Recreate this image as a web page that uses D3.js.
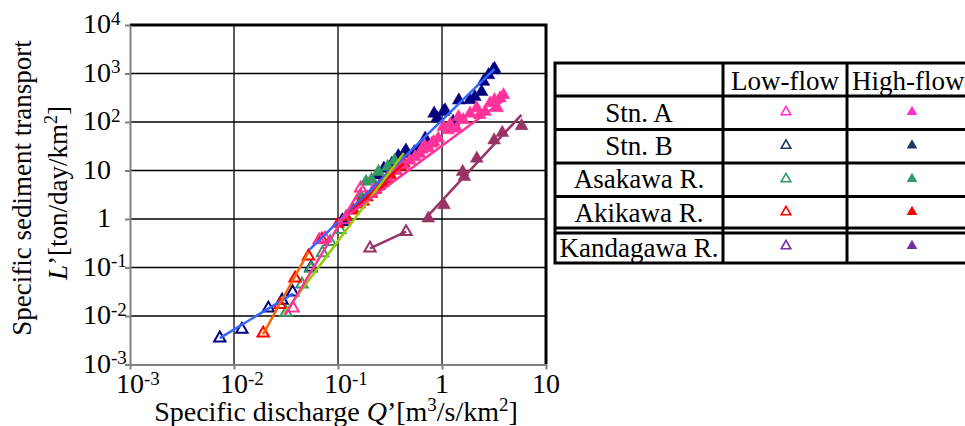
<!DOCTYPE html>
<html>
<head>
<meta charset="utf-8">
<script src="https://cdn.jsdelivr.net/npm/d3@7"></script>
<style>
  body { margin: 0; background: white; }
  text { font-family: "Liberation Serif", "Times New Roman", serif; fill: black; }
</style>
</head>
<body>
<div id="canvas"></div>
<script>
"use strict"

/* data: [Q', L'] pairs */
let stnBLow = [[0.0073, 0.0035], [0.0119, 0.0053], [0.0214, 0.0144], [0.029, 0.021], [0.0366, 0.031], [0.055, 0.10], [0.11, 0.88]];
let stnBHigh = [[0.11, 0.95], [0.24, 8], [0.276, 11], [0.33, 14], [0.38, 20], [0.43, 22], [0.45, 26], [0.54, 24], [0.61, 29], [0.69, 46],
  [0.84, 150], [0.9, 120], [1.03, 163], [1.07, 175], [1.28, 102], [1.45, 280], [1.86, 284], [2.07, 330], [2.4, 420], [2.5, 680], [2.8, 930], [3.1, 1180], [3.2, 1250]];
let stnALow = [[0.037, 0.0145], [0.066, 0.37], [0.075, 0.4], [0.116, 0.95], [0.165, 4.3]];
let stnAHigh = [[0.22, 4], [0.3, 7], [0.36, 10], [0.42, 13], [0.49, 16], [0.55, 19], [0.61, 22], [0.64, 27], [0.68, 33], [0.74, 29],
  [0.8, 36], [0.83, 39], [0.92, 46], [1.03, 80], [1.15, 68], [1.2, 90], [1.38, 74], [1.44, 127], [1.6, 110], [1.86, 150],
  [2.16, 195], [2.3, 140], [2.6, 163], [2.9, 245], [3.2, 284], [3.4, 195], [3.6, 310], [3.9, 360]];
let asaLow = [[0.0317, 0.0118], [0.045, 0.045], [0.055, 0.095], [0.071, 0.2], [0.084, 0.34], [0.104, 0.6]];
let asaHigh = [[0.12, 1.1], [0.14, 1.6], [0.165, 3], [0.186, 5.9], [0.21, 6.5], [0.245, 9.4], [0.3, 12], [0.35, 16]];
let akiLow = [[0.0191, 0.0044], [0.0277, 0.017], [0.0387, 0.06], [0.052, 0.17], [0.07, 0.38]];
let akiHigh = [[0.1, 0.8], [0.12, 1.1], [0.14, 1.5], [0.16, 2], [0.175, 2.3], [0.19, 2.8], [0.21, 3.3], [0.23, 4], [0.25, 4.8],
  [0.27, 5.5], [0.29, 6.5], [0.32, 8], [0.36, 10], [0.4, 12], [0.43, 14]];
let kanLow = [[0.203, 0.249], [0.451, 0.547]];
let kanHigh = [[0.738, 1.03], [1.045, 1.94], [1.58, 9.4], [1.64, 7.4], [2.16, 17.7], [3.17, 42], [3.8, 60], [5.83, 83]];

/* fitted lines, end points */
let stnBLowFit = [[0.0073, 0.0035], [0.037, 0.029]];
let stnBHighFit = [[0.053, 0.23], [3.2, 1250]];
let stnALowFit = [[0.031, 0.0105], [0.17, 4.6]];
let stnAHighFit = [[0.1, 0.85], [4.0, 290]];
let asaFit = [[0.03, 0.011], [0.43, 23]];
let akiLowFit = [[0.019, 0.0042], [0.052, 0.21]];
let akiHighFit = [[0.1, 0.8], [0.43, 14]];
let kanLowFit = [[0.203, 0.249], [0.451, 0.547]];
let kanHighFit = [[0.72, 1.12], [5.8, 140]];

/* ticks */
let xTicks = [1e-3, 1e-2, 1e-1, 1, 10];
let xTickBase = ["10", "10", "10", "1", "10"];
let xTickSup = ["-3", "-2", "-1", "", ""];
let yTicks = [1e-3, 1e-2, 1e-1, 1, 10, 1e2, 1e3, 1e4];
let yTickBase = ["10", "10", "10", "1", "10", "10", "10", "10"];
let yTickSup = ["-3", "-2", "-1", "", "", "2", "3", "4"];

/* legend table */
let rowLabels = ["Stn. A", "Stn. B", "Asakawa R.", "Akikawa R.", "Kandagawa R."];
let legendColors = ["#ff33cc", "#1f3864", "#339966", "#ff0000", "#7030a0"];

let drawing = d3.select("#canvas")
  .append("svg")
  .attr("width", 965)
  .attr("height", 426);

let x = d3.scaleLog().domain([1e-3, 10]).range([130, 546]);
let y = d3.scaleLog().domain([1e-3, 1e4]).range([364.5, 25]);

/* grid */
drawing.append("g").selectAll("line").data(xTicks.slice(1, -1)).join("line")
  .attr("x1", d => x(d)).attr("x2", d => x(d))
  .attr("y1", y(1e4)).attr("y2", y(1e-3))
  .attr("stroke", "#333").attr("stroke-width", 1.6);
drawing.append("g").selectAll("line").data(yTicks.slice(1, -1)).join("line")
  .attr("x1", x(1e-3)).attr("x2", x(10))
  .attr("y1", d => y(d)).attr("y2", d => y(d))
  .attr("stroke", "black").attr("stroke-width", 1.6);

/* top and right frame */
drawing.append("polyline")
  .attr("points", [[x(1e-3), y(1e4)], [x(10), y(1e4)], [x(10), y(1e-3)]].join(" "))
  .attr("fill", "none").attr("stroke", "black").attr("stroke-width", 3);

/* axes */
let xAxis = drawing.append("g")
  .attr("transform", `translate(0,${y(1e-3)})`)
  .call(d3.axisBottom(x).tickValues(xTicks).tickFormat("").tickSize(5).tickSizeOuter(0));
let yAxis = drawing.append("g")
  .attr("transform", `translate(${x(1e-3)},0)`)
  .call(d3.axisLeft(y).tickValues(yTicks).tickFormat("").tickSize(5).tickSizeOuter(0));
drawing.selectAll(".domain, .tick line").attr("stroke", "#808080").attr("stroke-width", 2);

/* x tick labels: base centred on the tick, exponent hangs to the right */
xTicks.forEach((t, i) => {
  let base = drawing.append("text")
    .attr("x", x(t)).attr("y", 393)
    .attr("text-anchor", "middle")
    .attr("font-size", 28)
    .text(xTickBase[i]);
  let w = base.node().getComputedTextLength();
  if (xTickSup[i]) {
    drawing.append("text")
      .attr("x", x(t) + w / 2).attr("y", 385)
      .attr("font-size", 19)
      .text(xTickSup[i]);
  }
});

/* y tick labels */
yTicks.forEach((t, i) => {
  drawing.append("text")
    .attr("x", 111).attr("y", y(t) + 8)
    .attr("text-anchor", "end")
    .attr("font-size", 28)
    .text(yTickBase[i]);
  if (yTickSup[i]) {
    drawing.append("text")
      .attr("x", 111).attr("y", y(t) - 0.5)
      .attr("font-size", 19)
      .text(yTickSup[i]);
  }
});

/* axis titles */
let xTitle = drawing.append("text")
  .attr("x", 336).attr("y", 421)
  .attr("text-anchor", "middle")
  .attr("font-size", 28);
xTitle.append("tspan").text("Specific discharge ");
xTitle.append("tspan").attr("font-style", "italic").text("Q");
xTitle.append("tspan").text("’[m");
xTitle.append("tspan").attr("font-size", 19).attr("dy", -10).text("3");
xTitle.append("tspan").attr("dy", 10).text("/s/km");
xTitle.append("tspan").attr("font-size", 19).attr("dy", -10).text("2");
xTitle.append("tspan").attr("dy", 10).text("]");

let yTitle1 = drawing.append("text")
  .attr("transform", "translate(31,188) rotate(-90)")
  .attr("text-anchor", "middle")
  .attr("font-size", 27)
  .text("Specific sediment transport");
let yTitle2 = drawing.append("text")
  .attr("transform", "translate(67,193) rotate(-90)")
  .attr("text-anchor", "middle")
  .attr("font-size", 27);
yTitle2.append("tspan").attr("font-style", "italic").text("L");
yTitle2.append("tspan").text("’[ton/day/km");
yTitle2.append("tspan").attr("font-size", 18).attr("dy", -10).text("2");
yTitle2.append("tspan").attr("dy", 10).text("]");

/* markers */
let series = [
  { pts: stnBLow, color: "#000080", filled: false },
  { pts: stnBHigh, color: "#000080", filled: true },
  { pts: asaLow, color: "#339966", filled: false },
  { pts: asaHigh, color: "#339966", filled: true },
  { pts: akiLow, color: "#ff0000", filled: false },
  { pts: akiHigh, color: "#ff0000", filled: true },
  { pts: stnALow, color: "#ff3399", filled: false },
  { pts: stnAHigh, color: "#ff3399", filled: true },
  { pts: kanLow, color: "#993366", filled: false },
  { pts: kanHigh, color: "#993366", filled: true }
];
let openTri = d3.symbol(d3.symbolTriangle, 56)();
let fullTri = d3.symbol(d3.symbolTriangle, 72)();

series.forEach(s => {
  drawing.append("g").selectAll("path").data(s.pts).join("path")
    .attr("d", s.filled ? fullTri : openTri)
    .attr("transform", d => `translate(${x(d[0])},${y(d[1])})`)
    .attr("fill", s.filled ? s.color : "white")
    .attr("fill-opacity", s.filled ? 1 : 0)
    .attr("stroke", s.color)
    .attr("stroke-width", s.filled ? 0.5 : 2);
});

/* fitted lines */
let fits = [
  { pts: stnBLowFit, color: "#3366ff" },
  { pts: stnBHighFit, color: "#3366ff" },
  { pts: akiLowFit, color: "#ff6600" },
  { pts: akiHighFit, color: "#ff0000" },
  { pts: asaFit, color: "#99cc00" },
  { pts: stnALowFit, color: "#ff3399" },
  { pts: stnAHighFit, color: "#ff3399" },
  { pts: kanLowFit, color: "#993366" },
  { pts: kanHighFit, color: "#993366" }
];
let fitLine = d3.line().x(d => x(d[0])).y(d => y(d[1]));
fits.forEach(f => {
  drawing.append("path")
    .attr("d", fitLine(f.pts))
    .attr("fill", "none")
    .attr("stroke", f.color)
    .attr("stroke-width", 2.5);
});

/* legend table */
let tableLeft = 555, tableTop = 63;
let colX = [555, 723, 847, 990];
let rowY = [63, 96, 129.5, 163, 196.5, 228, 263];
let table = drawing.append("g");

table.append("rect")
  .attr("x", tableLeft).attr("y", tableTop)
  .attr("width", 990 - tableLeft).attr("height", 263 - tableTop)
  .attr("fill", "white").attr("stroke", "black").attr("stroke-width", 3);
table.selectAll(".col").data(colX.slice(1, -1)).join("line")
  .attr("x1", d => d).attr("x2", d => d)
  .attr("y1", tableTop).attr("y2", 263)
  .attr("stroke", "black").attr("stroke-width", 3);
table.selectAll(".row").data(rowY.slice(1, -1).concat([233])).join("line")
  .attr("x1", tableLeft).attr("x2", 990)
  .attr("y1", d => d).attr("y2", d => d)
  .attr("stroke", "black").attr("stroke-width", 3);

table.append("text")
  .attr("x", (colX[1] + colX[2]) / 2).attr("y", 90)
  .attr("text-anchor", "middle").attr("font-size", 27)
  .text("Low-flow");
table.append("text")
  .attr("x", 852).attr("y", 90)
  .attr("font-size", 27)
  .text("High-flow");

let rowBase = [122, 155, 188, 221.5, 256.5];
let rowMid = [112, 145.5, 179, 212, 246];
rowLabels.forEach((lab, i) => {
  table.append("text")
    .attr("x", (colX[0] + colX[1]) / 2).attr("y", rowBase[i])
    .attr("text-anchor", "middle").attr("font-size", 27)
    .text(lab);
  table.append("path")
    .attr("d", d3.symbol(d3.symbolTriangle, 40)())
    .attr("transform", `translate(786,${rowMid[i]})`)
    .attr("fill", "none")
    .attr("stroke", legendColors[i]).attr("stroke-width", 1.6);
  table.append("path")
    .attr("d", d3.symbol(d3.symbolTriangle, 50)())
    .attr("transform", `translate(912,${rowMid[i]})`)
    .attr("fill", legendColors[i]);
});
</script>
</body>
</html>
